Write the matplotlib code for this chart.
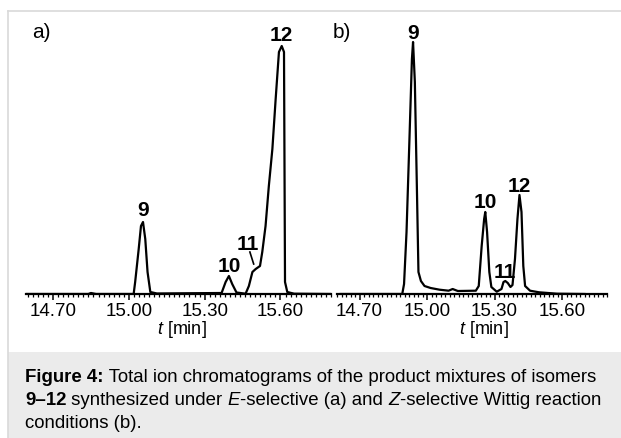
import matplotlib.pyplot as plt
from matplotlib.patches import Rectangle
from matplotlib.lines import Line2D
import numpy as np

plt.rcParams['font.family'] = ['Liberation Sans', 'DejaVu Sans']
plt.rcParams['mathtext.fontset'] = 'custom'
plt.rcParams['mathtext.it'] = 'Liberation Sans:italic'
plt.rcParams['mathtext.rm'] = 'Liberation Sans'

# (a) E-selective: retention time [min] and signal (arbitrary units)
t_a = [14.593, 14.84, 14.85, 14.87, 15.019, 15.025, 15.039, 15.048, 15.056, 15.065,
       15.074, 15.085, 15.111, 15.367, 15.383, 15.396, 15.409, 15.426, 15.462, 15.475,
       15.489, 15.502, 15.519, 15.528, 15.541, 15.554, 15.568, 15.581, 15.594, 15.605,
       15.614, 15.618, 15.627, 15.654, 15.799]
i_a = [0, 0, 1, 0, 0, 12, 45, 68, 72, 55,
       22, 2, 0.5, 1, 12, 18, 10, 1.5, 0.3, 8,
       22, 25, 28, 42, 68, 108, 145, 195, 242, 248,
       242, 12, 2, 0.3, 0]

# (b) Z-selective
t_b = [14.616, 14.89, 14.898, 14.909, 14.922, 14.933, 14.938, 14.946, 14.956, 14.962,
       14.973, 14.989, 15.016, 15.056, 15.096, 15.114, 15.137, 15.217, 15.230, 15.243,
       15.254, 15.259, 15.267, 15.277, 15.286, 15.310, 15.331, 15.340, 15.348, 15.359,
       15.371, 15.380, 15.391, 15.402, 15.411, 15.420, 15.428, 15.436, 15.458, 15.498,
       15.578, 15.700]
i_b = [0, 0, 10, 62, 155, 235, 252, 212, 95, 22,
       13, 8, 6, 4.3, 3.3, 5, 3, 3.3, 8, 48,
       75, 82, 62, 22, 7, 2.3, 5, 12, 13, 11,
       7, 9, 35, 75, 99, 82, 28, 8, 3.3, 1.7,
       0.3, 0]

tick_vals = [14.70, 15.00, 15.30, 15.60]
tick_labels = ['14.70', '15.00', '15.30', '15.60']

# peak labels: (text, t, height of label centre)
labels_a = [('9', 15.056, 85), ('10', 15.396, 28), ('11', 15.470, 50), ('12', 15.605, 260)]
labels_b = [('9', 14.938, 262), ('10', 15.259, 93), ('11', 15.348, 23), ('12', 15.411, 108)]

W, H = 621, 439
fig = plt.figure(figsize=(W / 100, H / 100), dpi=100)

# frame and caption box
fig.patches.append(Rectangle((8 / W, 0), 1 - 8 / W, (439 - 353) / H, transform=fig.transFigure,
                             facecolor='#ebebeb', edgecolor='none', zorder=0))
fig.lines.append(Line2D([8 / W, 1], [1 - 12 / H, 1 - 12 / H], transform=fig.transFigure,
                        color='#d9d9d9', lw=1.2))
fig.lines.append(Line2D([8 / W, 8 / W], [0, 1 - 12 / H], transform=fig.transFigure,
                        color='#d9d9d9', lw=1.2))


def make_axes(x0, x1, xlim, t, y, labels):
    ax = fig.add_axes([x0 / W, 1 - 295 / H, (x1 - x0) / W, 255 / H])
    ax.plot(t, y, color='black', lw=1.6, solid_joinstyle='round')
    ax.set_xlim(*xlim)
    ax.set_ylim(0, 255)
    for s in ['top', 'right', 'left']:
        ax.spines[s].set_visible(False)
    ax.spines['bottom'].set_linewidth(1.6)
    ax.set_yticks([])
    ax.set_xticks(tick_vals)
    ax.set_xticklabels(tick_labels, fontsize=13.5)
    ax.set_xticks(np.arange(14.60, 15.80, 0.02), minor=True)
    ax.tick_params(axis='x', which='major', length=4, width=1.1, pad=1.5)
    ax.tick_params(axis='x', which='minor', length=2.5, width=0.9)
    ax.patch.set_visible(False)
    for txt, tx, ty in labels:
        ax.text(tx, ty, txt, ha='center', va='center', fontsize=15, fontweight='bold', clip_on=False)
    return ax


ax_a = make_axes(26, 331, (14.593, 15.799), t_a, i_a, labels_a)
ax_b = make_axes(337, 607, (14.616, 15.700), t_b, i_b, labels_b)

# leader line for shoulder 11 in (a)
ax_a.plot([15.479, 15.494], [42, 30], color='black', lw=1.2)

fig.text(32 / W, 1 - 33 / H, 'a)', fontsize=15, va='center', ha='left')
fig.text(333 / W, 1 - 33 / H, 'b)', fontsize=15, va='center', ha='left')
fig.text(182 / W, 1 - 330 / H, r'$\it{t}$ [min]', fontsize=13, va='center', ha='center')
fig.text(484 / W, 1 - 330 / H, r'$\it{t}$ [min]', fontsize=13, va='center', ha='center')

# caption with mixed styles
caption = [
    [('Figure 4:', 'bold', 'normal'), (' Total ion chromatograms of the product mixtures of isomers', 'normal', 'normal')],
    [('9\u201312', 'bold', 'normal'), (' synthesized under ', 'normal', 'normal'), ('E', 'normal', 'italic'),
     ('-selective (a) and ', 'normal', 'normal'), ('Z', 'normal', 'italic'),
     ('-selective Wittig reaction', 'normal', 'normal')],
    [('conditions (b).', 'normal', 'normal')],
]
fig.canvas.draw()
r = fig.canvas.get_renderer()
ys = [378, 401, 424]
for line, yy in zip(caption, ys):
    x = 25
    for txt, wgt, sty in line:
        tobj = fig.text(x / W, 1 - yy / H, txt, fontsize=13.4, fontweight=wgt, fontstyle=sty,
                        va='center', ha='left')
        bb = tobj.get_window_extent(renderer=r)
        x += bb.width

fig.savefig('out.png', dpi=100)
